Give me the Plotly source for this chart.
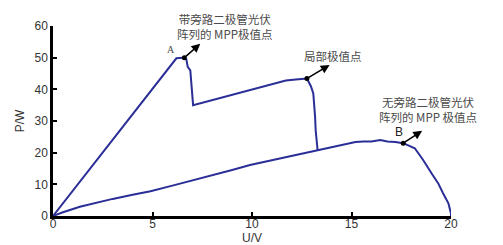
import plotly.graph_objects as go

# Curve with bypass diode (U in V, P in W)
u_bypass = [0, 6.2, 6.5, 6.70, 6.77, 6.9, 7.04, 11.7, 12.2, 12.76, 12.96, 13.08, 13.17, 13.2, 13.3]
p_bypass = [0, 49.8, 50.0, 49.5, 47.1, 46.0, 35.0, 42.8, 43.1, 43.4, 41.0, 38.7, 31.4, 27.0, 20.6]

# Curve without bypass diode
u_nobypass = [0, 0.5, 1.35, 2, 3, 4, 4.9, 6, 7, 8, 9, 9.9, 11, 12, 12.46, 13.3, 14.14, 15.2, 15.6, 16.0, 16.45, 16.8, 17.2, 17.6, 18.18, 18.6, 19.02, 19.36, 19.6, 19.87, 20.0, 20.0]
p_nobypass = [0, 1.2, 2.9, 3.9, 5.4, 6.7, 7.8, 9.6, 11.2, 12.9, 14.5, 16.1, 17.6, 18.9, 19.6, 20.6, 21.9, 23.4, 23.5, 23.5, 24.0, 23.5, 23.4, 23.0, 21.4, 17.7, 13.5, 10.3, 7.2, 4.0, 0.8, 0]

x_ticks = [0, 5, 10, 15, 20]
y_ticks = [0, 10, 20, 30, 40, 50, 60]

point_A = (6.6, 50.0)
point_local = (12.76, 43.4)
point_B = (17.6, 23.0)

line_color = "#2a2e96"

fig = go.Figure()
fig.add_trace(go.Scatter(x=u_bypass, y=p_bypass, mode="lines",
                         line=dict(color=line_color, width=2), showlegend=False))
fig.add_trace(go.Scatter(x=u_nobypass, y=p_nobypass, mode="lines",
                         line=dict(color=line_color, width=2), showlegend=False))
fig.add_trace(go.Scatter(x=[point_A[0], point_local[0], point_B[0]],
                         y=[point_A[1], point_local[1], point_B[1]],
                         mode="markers", marker=dict(color="black", size=5),
                         showlegend=False, cliponaxis=False))

cjk = "Noto Sans CJK SC"
txt_color = "#4a4a4a"

def arrow(tail, head):
    fig.add_annotation(x=head[0], y=head[1], ax=tail[0], ay=tail[1],
                       xref="x", yref="y", axref="x", ayref="y",
                       text="", showarrow=True, arrowhead=2, arrowsize=1.1,
                       arrowwidth=1.6, arrowcolor="black")

arrow(point_A, (7.4, 54.4))
arrow(point_local, (13.9, 47.7))
arrow(point_B, (18.55, 26.9))

fig.add_annotation(x=8.6, y=59.9, xref="x", yref="y", showarrow=False,
                   text="带旁路二极管光伏<br>阵列的 MPP极值点",
                   font=dict(family=cjk, size=11.5, color=txt_color), align="center")
fig.add_annotation(x=5.93, y=52.6, xref="x", yref="y", showarrow=False,
                   text="A", font=dict(family="Liberation Serif", size=10, color=txt_color))
fig.add_annotation(x=14.06, y=50.6, xref="x", yref="y", showarrow=False,
                   text="局部极值点",
                   font=dict(family=cjk, size=11.5, color=txt_color))
fig.add_annotation(x=18.85, y=33.6, xref="x", yref="y", showarrow=False,
                   text="无旁路二极管光伏<br>阵列的 MPP 极值点",
                   font=dict(family=cjk, size=11.5, color=txt_color), align="center")
fig.add_annotation(x=17.4, y=26.6, xref="x", yref="y", showarrow=False,
                   text="B", font=dict(family="Liberation Sans", size=12, color="#222222"))

axis_common = dict(showgrid=False, zeroline=False, showline=True, linecolor="black",
                   linewidth=2.5, ticks="inside", ticklen=4, tickwidth=1.5, tickcolor="black",
                   automargin=False,
                   tickfont=dict(family="Liberation Sans", size=12, color="#333333"))

fig.update_xaxes(range=[0, 20], tickvals=x_ticks, ticklabelstandoff=-5,
                 title=dict(text="U/V", font=dict(family="Liberation Sans", size=12, color="#333333"), standoff=0),
                 **axis_common)
fig.update_yaxes(range=[0, 60], tickvals=y_ticks,
                 title=dict(text="P/W", font=dict(family="Liberation Sans", size=12, color="#333333"), standoff=8),
                 **axis_common)

# page body has an 8px default margin, so the figure is sized to fit the 503x245 window
fig.update_layout(width=495, height=237, margin=dict(l=45, r=52, t=18, b=29),
                  plot_bgcolor="white", paper_bgcolor="white")

fig.write_html("out.html")
